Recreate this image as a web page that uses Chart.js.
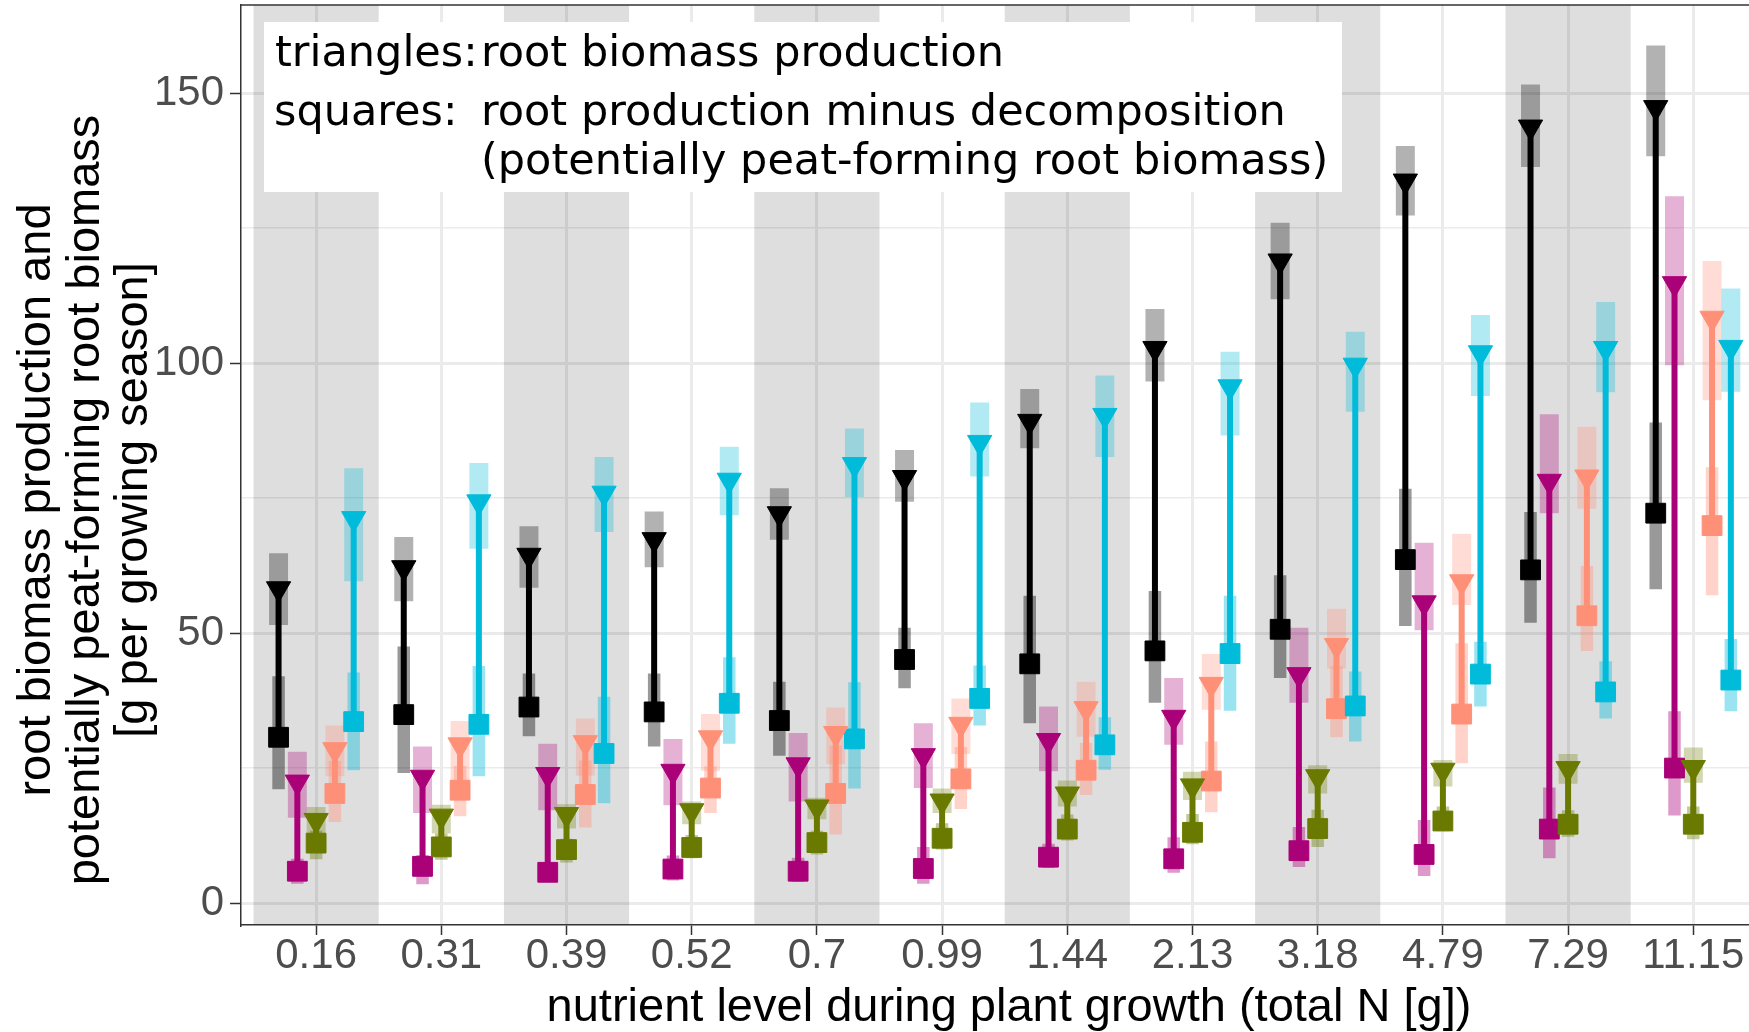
<!DOCTYPE html>
<html>
<head>
<meta charset="utf-8">
<script src="https://cdn.jsdelivr.net/npm/chart.js@4.4.1/dist/chart.umd.min.js"></script>
<style>
  html, body { margin: 0; padding: 0; background: #ffffff; overflow: hidden; }
  canvas { display: block; }
</style>
</head>
<body>
<canvas id="chart" width="1749" height="1032"></canvas>
<script>
// Nutrient levels (total N [g]) on the x axis
const categories = ['0.16', '0.31', '0.39', '0.52', '0.7', '0.99', '1.44', '2.13', '3.18', '4.79', '7.29', '11.15'];

// y axis ticks: gridlines every 25, labels every 50
const yTicks = [0, 25, 50, 75, 100, 125, 150];

// Black series: root biomass production (triangles) and production minus decomposition (squares)
const blackProd     = [58.2, 62.1, 64.4, 67.3, 72.1, 78.8, 89.2, 102.7, 118.9, 133.7, 143.7, 147.3];
const blackProdLow  = [51.5, 55.9, 58.4, 62.2, 67.3, 74.3, 84.2, 96.6, 111.8, 127.3, 136.3, 138.3];
const blackProdHigh = [64.8, 67.8, 69.8, 72.5, 76.8, 83.9, 95.2, 110.0, 126.0, 140.2, 151.6, 158.8];
const blackNet      = [30.7, 34.9, 36.3, 35.4, 33.8, 45.1, 44.3, 46.7, 50.7, 63.6, 61.7, 72.2];
const blackNetLow   = [21.1, 24.1, 30.9, 29.0, 27.3, 39.8, 33.3, 37.1, 41.7, 51.3, 51.9, 58.1];
const blackNetHigh  = [42.0, 47.5, 42.5, 42.5, 41.0, 51.0, 56.9, 57.8, 60.7, 76.7, 72.4, 89.0];

// Magenta series
const magentaProd     = [22.4, 23.3, 23.8, 24.4, 25.6, 27.3, 30.1, 34.4, 42.3, 55.6, 78.1, 114.7];
const magentaProdLow  = [15.8, 16.7, 17.2, 18.1, 18.8, 21.3, 24.4, 29.3, 37.1, 50.5, 72.2, 99.6];
const magentaProdHigh = [28.0, 29.0, 29.5, 30.4, 31.5, 33.3, 36.4, 41.7, 51.0, 66.7, 90.5, 130.9];
const magentaNet      = [5.9, 6.8, 5.7, 6.3, 5.9, 6.4, 8.5, 8.2, 9.7, 9.0, 13.7, 25.0];
const magentaNetLow   = [3.6, 3.5, 3.9, 4.2, 3.9, 3.6, 6.5, 5.6, 6.7, 5.0, 8.3, 16.2];
const magentaNetHigh  = [8.2, 8.9, 7.4, 8.8, 8.4, 10.4, 11.0, 12.2, 14.1, 15.4, 21.4, 35.5];

// Olive series
const oliveProd     = [15.3, 16.1, 16.4, 17.1, 17.8, 18.9, 20.2, 21.7, 23.4, 24.6, 24.9, 25.1];
const oliveProdLow  = [12.5, 12.9, 13.8, 14.6, 15.5, 16.7, 17.9, 19.1, 20.3, 21.6, 22.1, 22.3];
const oliveProdHigh = [17.8, 18.2, 18.3, 18.8, 19.5, 21.2, 22.7, 24.3, 25.5, 26.5, 27.6, 28.8];
const oliveNet      = [11.1, 10.4, 9.9, 10.3, 11.2, 12.0, 13.7, 13.1, 13.8, 15.2, 14.6, 14.6];
const oliveNetLow   = [8.1, 8.0, 7.5, 8.3, 9.0, 9.9, 11.6, 10.9, 10.4, 13.3, 12.3, 11.8];
const oliveNetHigh  = [13.4, 12.9, 11.9, 12.6, 13.4, 14.8, 16.4, 16.5, 17.3, 17.9, 17.2, 17.9];

// Salmon series
const salmonProd     = [28.4, 29.3, 29.7, 30.6, 31.4, 33.1, 36.0, 40.5, 47.7, 59.5, 78.9, 108.3];
const salmonProdLow  = [23.5, 21.9, 23.6, 24.5, 25.7, 27.6, 30.8, 35.8, 43.4, 55.2, 73.0, 93.1];
const salmonProdHigh = [32.9, 33.7, 34.2, 35.0, 36.2, 37.9, 41.0, 46.1, 54.5, 68.4, 88.2, 118.9];
const salmonNet      = [20.3, 20.9, 20.1, 21.3, 20.3, 23.0, 24.6, 22.6, 36.0, 35.0, 53.2, 69.9];
const salmonNetLow   = [15.0, 16.1, 14.0, 16.7, 12.7, 17.4, 20.0, 16.8, 30.7, 25.9, 46.7, 57.0];
const salmonNetHigh  = [26.3, 25.4, 26.4, 25.3, 29.2, 28.9, 29.7, 29.9, 43.8, 48.1, 62.4, 80.7];

// Cyan series
const cyanProd     = [71.2, 74.3, 75.9, 78.3, 81.2, 85.3, 90.3, 95.6, 99.6, 101.9, 102.7, 102.9];
const cyanProdLow  = [59.6, 65.6, 68.7, 71.8, 75.2, 79.0, 82.6, 86.6, 91.0, 93.9, 94.6, 94.7];
const cyanProdHigh = [80.5, 81.5, 82.6, 84.5, 87.9, 92.7, 97.7, 102.1, 105.8, 108.9, 111.3, 113.8];
const cyanNet      = [33.6, 33.1, 27.7, 37.0, 30.4, 37.9, 29.3, 46.2, 36.5, 42.4, 39.1, 41.3];
const cyanNetLow   = [24.6, 23.5, 18.5, 29.5, 21.2, 32.9, 24.7, 35.6, 29.9, 36.4, 34.2, 35.5];
const cyanNetHigh  = [42.7, 43.9, 38.2, 45.5, 40.9, 44.0, 34.4, 56.9, 42.9, 48.4, 44.8, 48.9];

// Series table (left to right within each nutrient level)
const series = [
  { color: [0, 0, 0],       prod: blackProd,   prodLow: blackProdLow,   prodHigh: blackProdHigh,   net: blackNet,   netLow: blackNetLow,   netHigh: blackNetHigh },
  { color: [170, 0, 120],   prod: magentaProd, prodLow: magentaProdLow, prodHigh: magentaProdHigh, net: magentaNet, netLow: magentaNetLow, netHigh: magentaNetHigh },
  { color: [106, 122, 0],   prod: oliveProd,   prodLow: oliveProdLow,   prodHigh: oliveProdHigh,   net: oliveNet,   netLow: oliveNetLow,   netHigh: oliveNetHigh },
  { color: [255, 144, 120], prod: salmonProd,  prodLow: salmonProdLow,  prodHigh: salmonProdHigh,  net: salmonNet,  netLow: salmonNetLow,  netHigh: salmonNetHigh },
  { color: [0, 187, 217],   prod: cyanProd,    prodLow: cyanProdLow,    prodHigh: cyanProdHigh,    net: cyanNet,    netLow: cyanNetLow,    netHigh: cyanNetHigh }
];

const dodge = [-0.3, -0.15, 0, 0.15, 0.3];
const rgba = (c, a) => `rgba(${c[0]},${c[1]},${c[2]},${a})`;

// vertical segments from lo[i] to hi[i], separated by gaps
function segments(lo, hi, off) {
  const pts = [];
  lo.forEach((v, i) => {
    pts.push({ x: i + off, y: v }, { x: i + off, y: hi[i] }, { x: i + off, y: null });
  });
  return pts;
}
function points(vals, off) {
  return vals.map((v, i) => ({ x: i + off, y: v }));
}

const datasets = [];
series.forEach((s, k) => {
  const off = dodge[k];
  const lineBase = { showLine: true, spanGaps: false, pointRadius: 0, pointHoverRadius: 0, borderCapStyle: 'butt', fill: false };
  datasets.push(Object.assign({}, lineBase, { data: segments(s.prodLow, s.prodHigh, off), borderColor: rgba(s.color, 0.3), borderWidth: 19, order: 40 - k }));
  datasets.push(Object.assign({}, lineBase, { data: segments(s.netLow, s.netHigh, off), borderColor: rgba(s.color, 0.4), borderWidth: 12.5, order: 30 - k }));
  datasets.push(Object.assign({}, lineBase, { data: segments(s.net, s.prod, off), borderColor: rgba(s.color, 1), borderWidth: 6, order: 20 - k }));
  datasets.push({ showLine: false, data: points(s.net, off), pointStyle: 'rect', pointRadius: 14, pointHoverRadius: 14,
    pointBackgroundColor: rgba(s.color, 1), pointBorderColor: rgba(s.color, 1), pointBorderWidth: 1, order: 10 - k });
  datasets.push({ showLine: false, data: points(s.prod, off), pointStyle: 'triangle', pointRotation: 180, pointRadius: 14, pointHoverRadius: 14,
    pointBackgroundColor: rgba(s.color, 1), pointBorderColor: rgba(s.color, 1), pointBorderWidth: 1, order: 5 - k });
});

// Alternating shaded columns behind the data
const shadingPlugin = {
  id: 'shading',
  beforeDatasetsDraw(chart) {
    const { ctx, chartArea, scales } = chart;
    ctx.save();
    ctx.beginPath();
    ctx.rect(chartArea.left, chartArea.top, chartArea.right - chartArea.left, chartArea.bottom - chartArea.top);
    ctx.clip();
    ctx.fillStyle = 'rgba(0,0,0,0.13)';
    categories.forEach((c, i) => {
      if (i % 2 !== 0) return;
      const x0 = scales.x.getPixelForValue(i - 0.5);
      const x1 = scales.x.getPixelForValue(i + 0.5);
      ctx.fillRect(x0, chartArea.top, x1 - x0, chartArea.bottom - chartArea.top);
    });
    ctx.restore();
  }
};

// Panel top edge, key box and axis titles
const annotationPlugin = {
  id: 'annotations',
  afterDatasetsDraw(chart) {
    const { ctx, chartArea } = chart;
    ctx.save();
    ctx.strokeStyle = '#333333';
    ctx.lineWidth = 1.5;
    ctx.beginPath();
    ctx.moveTo(chartArea.left, chartArea.top);
    ctx.lineTo(chartArea.right, chartArea.top);
    ctx.stroke();

    ctx.fillStyle = '#ffffff';
    ctx.fillRect(264, 22, 1078, 170);
    ctx.fillStyle = '#000000';
    ctx.font = '43px "DejaVu Sans"';
    ctx.textAlign = 'left';
    ctx.textBaseline = 'alphabetic';
    ctx.fillText('triangles:', 275, 66);
    ctx.fillText('root biomass production', 481, 66);
    ctx.fillText('squares:', 274, 125);
    ctx.fillText('root production minus decomposition', 481, 125);
    ctx.fillText('(potentially peat-forming root biomass)', 481, 174);
    ctx.restore();
  },
  afterDraw(chart) {
    const { ctx } = chart;
    ctx.save();
    ctx.fillStyle = '#000000';
    ctx.font = '47px "Liberation Sans"';
    ctx.textAlign = 'center';
    ctx.textBaseline = 'alphabetic';
    ctx.fillText('nutrient level during plant growth (total N [g])', 1009, 1021);
    const yLines = ['root biomass production and', 'potentially peat-forming root biomass', '[g per growing season]'];
    const baseX = [50, 98.5, 147];
    yLines.forEach((t, i) => {
      ctx.save();
      ctx.translate(baseX[i], 500);
      ctx.rotate(-Math.PI / 2);
      ctx.fillText(t, 0, 0);
      ctx.restore();
    });
    ctx.restore();
  }
};

new Chart(document.getElementById('chart'), {
  type: 'scatter',
  data: { datasets },
  options: {
    responsive: false,
    animation: false,
    events: [],
    layout: { autoPadding: false, padding: { top: 5, right: 0, bottom: 0, left: 0 } },
    plugins: { legend: { display: false }, tooltip: { enabled: false } },
    scales: {
      x: {
        type: 'linear',
        min: -0.6,
        max: 11.445,
        afterFit(scale) {
          scale.height = 107;
          scale.paddingLeft = 0;
          scale.paddingRight = 0;
        },
        afterBuildTicks(scale) { scale.ticks = categories.map((c, i) => ({ value: i })); },
        ticks: {
          callback: (v) => categories[v],
          font: { family: 'Liberation Sans', size: 42, lineHeight: 1 },
          color: '#4D4D4D',
          padding: 0,
          maxRotation: 0,
          autoSkip: false
        },
        grid: { color: '#EBEBEB', lineWidth: 3, tickLength: 10, tickColor: '#333333', tickWidth: 1.5 },
        border: { display: true, color: '#333333', width: 1.5, z: 1 }
      },
      y: {
        type: 'linear',
        min: -4.06,
        max: 166.3,
        afterFit(scale) {
          scale.width = 241;
          scale.paddingTop = 0;
          scale.paddingBottom = 0;
        },
        afterBuildTicks(scale) { scale.ticks = yTicks.map(v => ({ value: v })); },
        ticks: {
          callback: (v) => (v % 50 === 0 ? String(v) : ''),
          font: { family: 'Liberation Sans', size: 42 },
          color: '#4D4D4D',
          padding: 6
        },
        grid: {
          color: '#EBEBEB',
          lineWidth: (c) => (c.tick && c.tick.value % 50 === 0 ? 3 : 1.6),
          tickLength: 11,
          tickColor: (c) => (c.tick && c.tick.value % 50 === 0 ? '#333333' : 'rgba(0,0,0,0)'),
          tickWidth: 1.5
        },
        border: { display: true, color: '#333333', width: 1.5, z: 1 }
      }
    }
  },
  plugins: [shadingPlugin, annotationPlugin]
});
</script>
</body>
</html>
